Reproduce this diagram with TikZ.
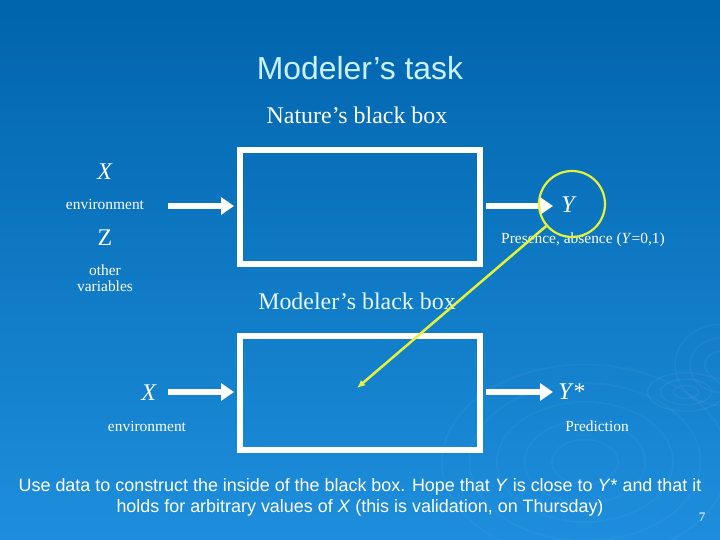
\documentclass[tikz,border=0pt]{standalone}
\usepackage{fontspec}
\setmainfont{Liberation Serif}
\newfontfamily\arialfont{Liberation Sans}
\usepackage{tikz}
\usetikzlibrary{arrows.meta,arrows,calc,positioning}
\definecolor{slideTop}{HTML}{0064AC}
\definecolor{slideMid}{HTML}{036AB3}
\definecolor{slideBot}{HTML}{1E8EDC}
\definecolor{titleCyan}{HTML}{C8F0FF}
\definecolor{paleCyan}{HTML}{E4F8FF}
\definecolor{markYellow}{HTML}{E4F23A}
\tikzset{>=latex'}
\tikzstyle{blackbox}=[draw=white, line width=6bp, minimum width=240bp, minimum height=114bp, inner sep=0pt]
\tikzstyle{flow}=[white, line width=5.5bp, -{Triangle[length=13bp,width=17bp]}]
\tikzstyle{var}=[text=white, font=\fontsize{24}{24}\selectfont, inner sep=0pt]
\tikzstyle{note}=[text=white, font=\fontsize{15.5}{16}\selectfont, align=center, inner sep=0pt]
\newcommand{\pIn}[2]{\draw[flow, shorten >=3bp] (#1) -- (#1 -| #2.west)}
\newcommand{\pOut}[2]{\draw[flow, shorten <=3bp] (#1.east |- #2) -- (#2)}

\begin{document}
\begin{tikzpicture}[x=1bp, y=-1bp]

\shade[top color=slideTop, middle color=slideMid, bottom color=slideBot] (0,0) rectangle (720,540);
\useasboundingbox (0,0) rectangle (720,540);

% faint ripples
\foreach \r in {8,16,24} \draw[white, opacity=0.05, line width=1.5bp] (686,392) ellipse ({\r*1.6} and {\r*0.8});
\foreach \r in {30,55,80,105,130} \draw[white, opacity=0.035, line width=2bp] (585,462) ellipse ({\r*1.1} and {\r*0.75});
\foreach \r in {15,30,45} \draw[white, opacity=0.04, line width=2bp] (720,365) ellipse ({\r} and {\r*0.9});

\node[font=\arialfont\fontsize{32}{32}\selectfont, text=titleCyan] (title) at (360,68) {Modeler’s task};
\node[var] (natTitle) at (357,115) {Nature’s black box};
\node[var, text=paleCyan] (modTitle) at (357,301) {Modeler’s black box};

\node[blackbox] (nature) at (360,207) {};
\node[blackbox] (model) at (360,393) {};

\coordinate (natIn) at (168,206);
\coordinate (natOut) at (553,206);
\coordinate (modIn) at (168,392);
\coordinate (modOut) at (553,392);

\pIn{natIn}{nature};
\pOut{nature}{natOut};
\pIn{modIn}{model};
\pOut{model}{modOut};

\node[var] (X1) at (105,172) {\textit{X}};
\node[note] (env1) at (105,204) {environment};
\node[var] (Z) at (105,238) {Z};
\node[note] (other) at (105,278) {other\\variables};
\node[var] (Y) at (569,205) {\textit{Y}};
\node[note] (presence) at (583,240) {Presence, absence (\textit{Y}=0,1)};

\node[var] (X2) at (149,393) {\textit{X}};
\node[note] (env2) at (147,426) {environment};
\node[var] (Ystar) at (572,392) {\textit{Y}*};
\node[note] (pred) at (597,426) {Prediction};

\node[circle, draw=markYellow, line width=2.2bp, minimum size=66bp] (ycirc) at (572,204) {};
\coordinate (guess) at (357,388);
\draw[markYellow, line width=2.5bp, -{Latex[length=8bp,width=7bp]}] (ycirc) -- (guess);

\node[text=white, font=\arialfont\fontsize{18}{21}\selectfont, align=center] (moral) at (360,497)
  {Use data to construct the inside of the black box. Hope that \textit{Y} is close to \textit{Y}* and that it\\holds for arbitrary values of \textit{X} (this is validation, on Thursday)};
\node[note, font=\fontsize{13}{13}\selectfont] (pagenum) at (702,517) {7};

\end{tikzpicture}
\end{document}
